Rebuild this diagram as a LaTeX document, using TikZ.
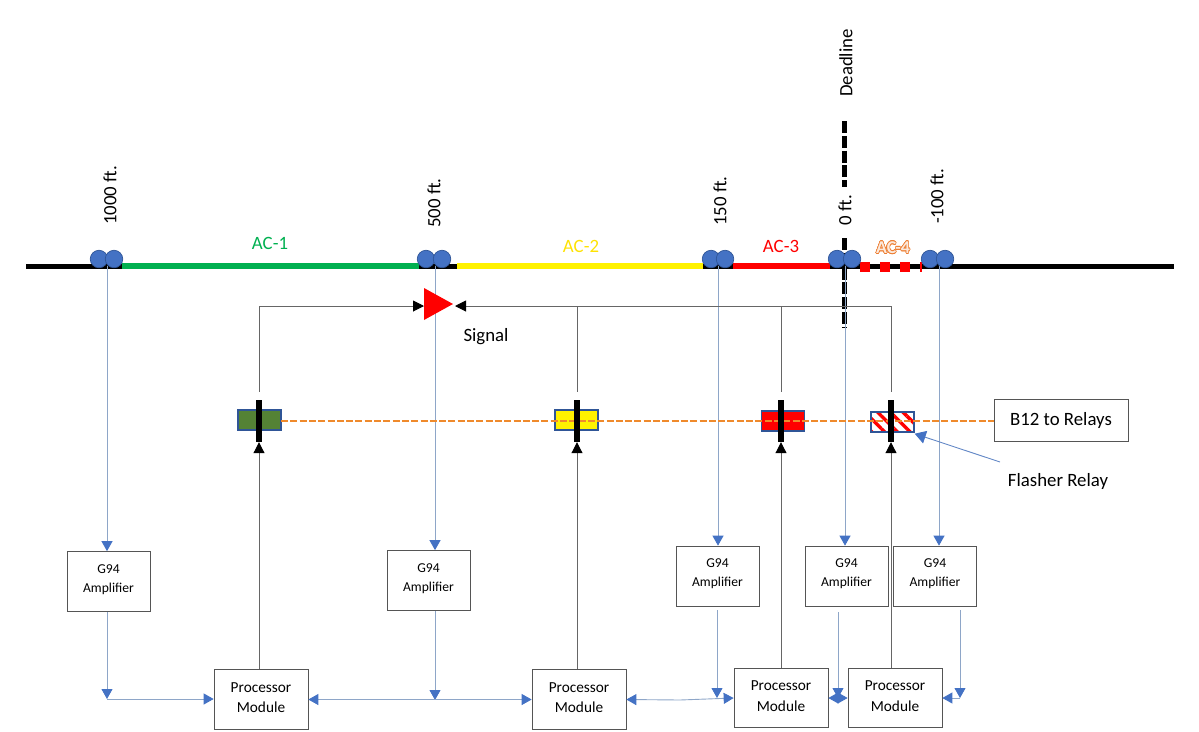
\documentclass[tikz,border=0pt]{standalone}
\usepackage{fontspec}
\usepackage{contour}
\setmainfont{Carlito}
\usetikzlibrary{arrows.meta,patterns.meta,calc}
\definecolor{sigblue}{HTML}{4472C4}
\definecolor{thinblue}{HTML}{8EA6C8}
\definecolor{edgeblue}{HTML}{2F5597}
\definecolor{acgreen}{HTML}{00B050}
\definecolor{relaygreen}{HTML}{548235}
\definecolor{acorange}{HTML}{ED7D31}
\definecolor{accream}{HTML}{FBE9DC}
\definecolor{boxline}{HTML}{555555}
\definecolor{wireline}{HTML}{666666}
\tikzset{
  bond/.style={circle,draw=edgeblue,line width=.7pt,fill=sigblue,minimum size=17.5pt,inner sep=0},
  ampbox/.style={draw=boxline,line width=.7pt,fill=white,inner sep=0,minimum width=83pt,minimum height=60pt},
  amptxt/.style={align=center,font=\fontsize{13.6}{19}\selectfont,inner sep=0,yshift=2pt},
  procbox/.style={draw=boxline,line width=.7pt,fill=white,inner sep=0,minimum width=94pt,minimum height=59.5pt},
  proctxt/.style={align=center,font=\fontsize{15.3}{20.5}\selectfont,inner sep=0,yshift=2pt},
  relaybox/.style={draw=edgeblue,line width=1.5pt,inner sep=0,minimum width=43pt,minimum height=20pt},
  relaybar/.style={fill=black,inner sep=0,minimum width=5.5pt,minimum height=42pt},
  tracklabel/.style={rotate=90,font=\fontsize{18.8}{20}\selectfont,inner sep=0},
  seclabel/.style={font=\fontsize{18.8}{20}\selectfont,inner sep=0},
  tracksec/.style={line width=6pt},
  feed/.style={thinblue,line width=.9pt,-{Triangle[width=11pt,length=10pt,color=sigblue]}},
  link/.style={thinblue,line width=.9pt,{Triangle[width=11pt,length=10pt,color=sigblue]}-{Triangle[width=11pt,length=10pt,color=sigblue]}},
  ctrl/.style={wireline,line width=1pt,-{Triangle[width=11pt,length=11pt,color=black]}},
  wire/.style={wireline,line width=1pt},
}
\begin{document}
\begin{tikzpicture}[x=1pt,y=-1pt]
\useasboundingbox (0,0) rectangle (1199,731);
% named points
\foreach \n/\x in {a/107,b/435,c/718,d/845,e/939}{\coordinate (t\n) at (\x,266);}
\coordinate (trackL) at (26,266); \coordinate (trackR) at (1174,266);
% track
\draw[line width=5pt] (trackL) -- (trackR);
\coordinate (g1) at (122,266); \coordinate (g2) at (419,266);
\coordinate (y1) at (457,266); \coordinate (y2) at (703,266);
\coordinate (r1) at (733,266); \coordinate (r2) at (830,266);
\coordinate (f1) at (860,267); \coordinate (f2) at (922,267);
\draw[tracksec,acgreen] (g1) -- (g2);
\draw[tracksec,yellow] (y1) -- (y2);
\draw[tracksec,red] (r1) -- (r2);
\draw[line width=10pt,red,dash pattern=on 10pt off 10pt] (f1) -- (f2);
% deadline
\coordinate (dlTop) at (844.5,121); \coordinate (dlMidA) at (844.5,187);
\coordinate (dlMidB) at (844.5,238); \coordinate (dlBot) at (844.5,328);
\draw[line width=4.5pt,dash pattern=on 12pt off 2.8pt] (dlTop) -- (dlMidA);
\draw[line width=4.5pt,dash pattern=on 12pt off 2.8pt] (dlMidB) -- (dlBot);
% amplifiers and processors
\node[ampbox,label={[amptxt]center:{G94\\Amplifier}}] (amp1) at (108.5,581.5) {};
\node[ampbox,label={[amptxt]center:{G94\\Amplifier}}] (amp2) at (428.5,580.5) {};
\node[ampbox,label={[amptxt]center:{G94\\Amplifier}}] (amp3) at (717.5,576) {};
\node[ampbox,label={[amptxt]center:{G94\\Amplifier}}] (amp4) at (846.5,576) {};
\node[ampbox,label={[amptxt]center:{G94\\Amplifier}}] (amp5) at (935,576) {};
\node[procbox,label={[proctxt]center:{Processor\\Module}}] (pm1) at (261,699.5) {};
\node[procbox,label={[proctxt]center:{Processor\\Module}}] (pm2) at (579,699.5) {};
\node[procbox,label={[proctxt]center:{Processor\\Module}}] (pm3) at (781,698) {};
\node[procbox,label={[proctxt]center:{Processor\\Module}}] (pm4) at (895,698) {};
\draw[feed] (ta) -- (ta |- amp1.north);
\draw[feed] (tb) -- (tb |- amp2.north);
\draw[feed] (tc) -- (tc |- amp3.north);
\draw[feed] (td) -- (td |- amp4.north);
\draw[feed] (te) -- (te |- amp5.north);
% bonds
\foreach \n/\x in {a1/99,a2/114,b1/426,b2/442,c1/711,c2/725,d1/837,d2/852,e1/930,e2/945}{\node[bond] (bond\n) at (\x,259) {};}
% signal
\fill[red] (424,288) -- (453,304) -- (424,320) -- cycle;
\coordinate (sigL) at (424,306); \coordinate (sigR) at (455,306);
% relays
\node[relaybox,fill=relaygreen] (rel1) at (259.5,420) {};
\node[relaybox,fill=yellow] (rel2) at (576.5,420) {};
\node[relaybox,fill=red] (rel3) at (783,421) {};
\node[relaybox,pattern={Lines[angle=-45,distance=9pt,line width=3.4pt]},pattern color=red] (rel4) at (892.5,422) {};
\node[draw=boxline,line width=.7pt,fill=white,font=\fontsize{18.8}{20}\selectfont,inner sep=0,minimum width=134pt,minimum height=42pt] (b12) at (1061,420) {B12 to Relays};
\coordinate (busL) at (281,421);
\draw[acorange!90!yellow,line width=2.8pt,dash pattern=on 7pt off 2.3pt] (busL) -- (busL -| b12.west);
\node[relaybar] (bar1) at (259,421) {};
\node[relaybar] (bar2) at (577,421) {};
\node[relaybar] (bar3) at (781,421) {};
\node[relaybar] (bar4) at (891,421) {};
% control wires
\draw[ctrl] (pm1.north -| bar1) -- (bar1.south);
\draw[ctrl] (pm2.north -| bar2) -- (bar2.south);
\draw[ctrl] (pm3.north -| bar3) -- (bar3.south);
\draw[ctrl] (pm4.north -| bar4) -- (bar4.south);
\coordinate (w1) at ($(bar1.north)+(0,-8)$);
\coordinate (w2) at ($(bar2.north)+(0,-8)$);
\coordinate (w3) at ($(bar3.north)+(0,-8)$);
\coordinate (w4) at ($(bar4.north)+(0,-8)$);
\draw[ctrl] (w1) -- (w1 |- sigL) -- (sigL);
\draw[ctrl] (w4) -- (w4 |- sigR) -- (sigR);
\draw[wire] (w2) -- (w2 |- sigR);
\draw[wire] (w3) -- (w3 |- sigR);
% amplifier outputs
\coordinate (j1) at (107,699); \coordinate (j2) at (435,700); \coordinate (j3) at (717,698);
\coordinate (j4) at (838,698); \coordinate (j5) at (960,698);
\draw[feed] (j1 |- amp1.south) -- (j1);
\draw[feed] (j2 |- amp2.south) -- (j2);
\draw[feed] ($(j3 |- amp3.south)+(0,4)$) -- (j3);
\draw[feed] ($(j4 |- amp4.south)+(0,6)$) -- (j4);
\draw[feed] ($(j5 |- amp5.south)+(0,4)$) -- (j5);
\draw[feed] (j1) -- (j1 -| pm1.west);
\draw[link] (pm1.east) -- (pm2.west);
\draw[link] (pm2.east) -- (680,700) -- (pm3.west);
\draw[link] (pm3.east) -- (pm4.west);
\draw[feed] (j5) -- (pm4.east);
% flasher
\node[seclabel] (flash) at (1058,481) {Flasher Relay};
\coordinate (flashTail) at (1000,462);
\draw[feed,draw=sigblue!60!thinblue,-{Triangle[width=13pt,length=11pt,color=sigblue]}] (flashTail) -- ($(rel4.south east)+(-1,0)$);
% labels
\node[seclabel] (sigtxt) at (486,337) {Signal};
\node[seclabel,text=acgreen] (ac1) at (270,243) {AC-1};
\node[seclabel,text=yellow!85!orange] (ac2) at (581,246) {AC-2};
\node[seclabel,text=red] (ac3) at (781,246) {AC-3};
\contourlength{.6pt}
\node[seclabel,font=\fontsize{18}{20}\bfseries\selectfont] (ac4) at (893,248) {\contour{acorange}{\textcolor{accream}{AC-4}}};
\node[tracklabel] (l1000) at (110,195.5) {1000 ft.};
\node[tracklabel] (l500) at (434,203) {500 ft.};
\node[tracklabel] (l150) at (720,201) {150 ft.};
\node[tracklabel] (l0) at (845,210) {0 ft.};
\node[tracklabel] (l100) at (937,196.5) {-100 ft.};
\node[tracklabel] (ldead) at (846,63) {Deadline};
\end{tikzpicture}
\end{document}
